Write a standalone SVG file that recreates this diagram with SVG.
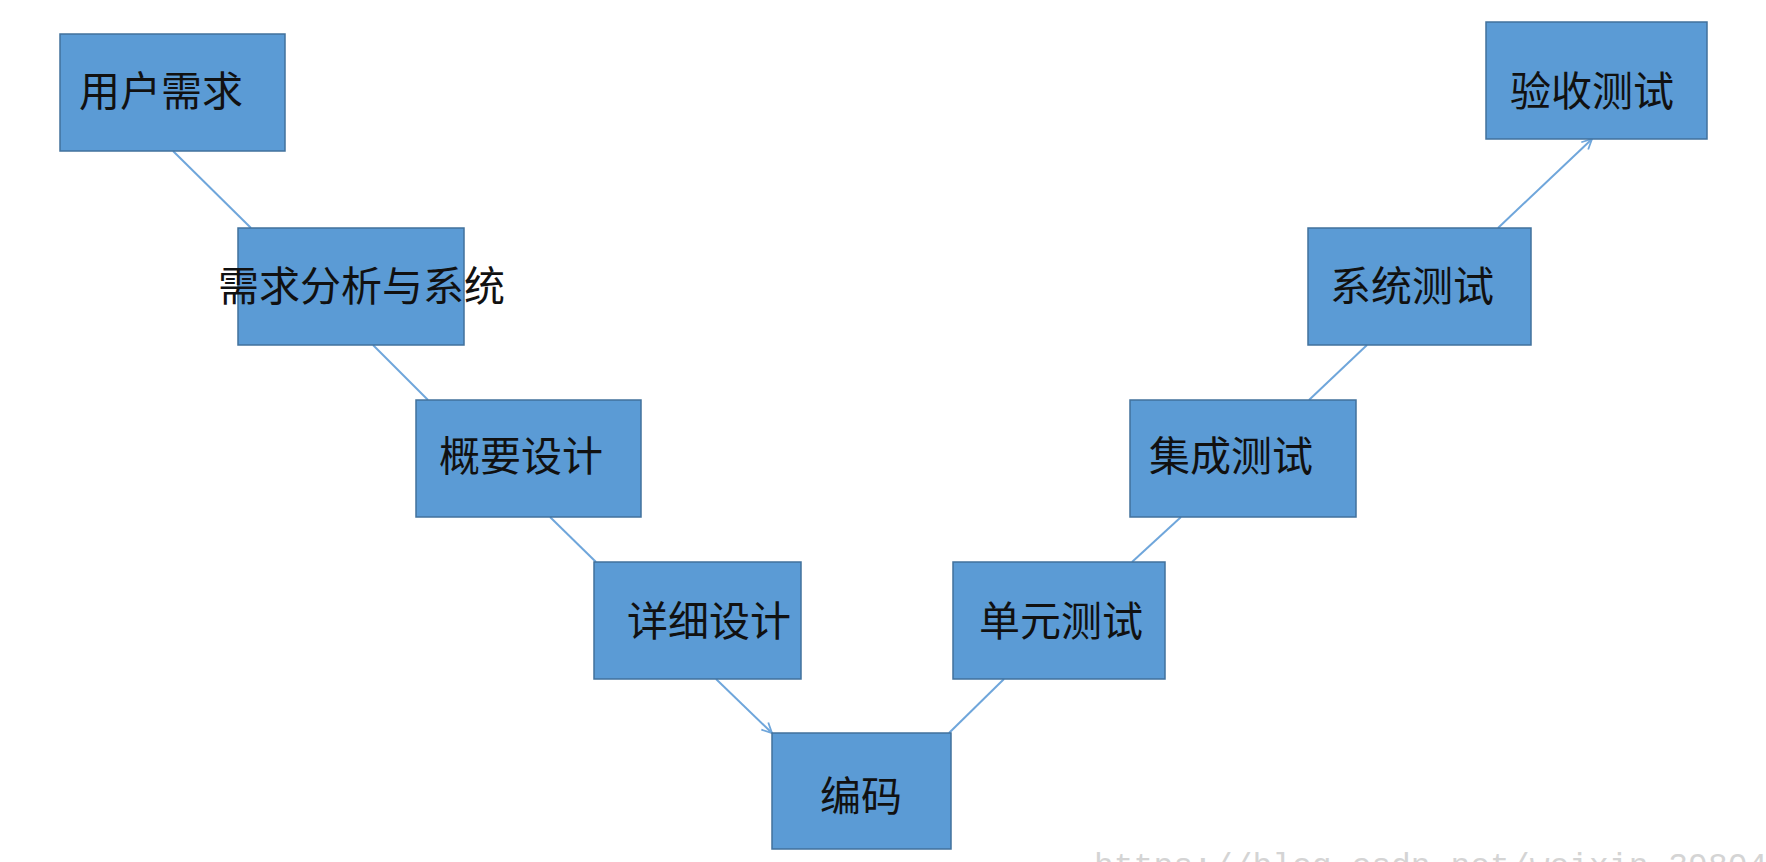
<svg xmlns="http://www.w3.org/2000/svg" width="1766" height="862" viewBox="0 0 1766 862">
<style>
.box{fill:#5B9BD5;stroke:#41719C;stroke-width:1.5}
.lbl{font-family:"Noto Sans CJK SC","Liberation Sans",sans-serif;font-size:41px;fill:#111}
.ln{stroke:#6FA6DB;stroke-width:2;fill:none}
.wm{font-family:"Liberation Mono",monospace;font-size:33px;fill:#d4d4d4}
</style>
<defs>
<marker id="arr" viewBox="0 0 12 12" refX="11" refY="6" markerWidth="12" markerHeight="12" markerUnits="userSpaceOnUse" orient="auto">
<path d="M1,1 L11,6 L1,11" fill="none" stroke="#6FA6DB" stroke-width="1.8"/>
</marker>
</defs>
<rect width="1766" height="862" fill="#fff"/>
<g id="connectors">
<line class="ln" x1="173" y1="151" x2="251" y2="228"/>
<line class="ln" x1="373" y1="345" x2="428" y2="400"/>
<line class="ln" x1="550" y1="517" x2="596" y2="562"/>
<line class="ln" x1="716" y1="679" x2="772" y2="733" marker-end="url(#arr)"/>
<line class="ln" x1="949" y1="733" x2="1004" y2="679"/>
<line class="ln" x1="1132" y1="562" x2="1181" y2="517"/>
<line class="ln" x1="1309" y1="400" x2="1367" y2="345"/>
<line class="ln" x1="1498" y1="228" x2="1592" y2="139" marker-end="url(#arr)"/>
</g>
<g id="n1"><rect class="box" x="60" y="34" width="225" height="117"/><text class="lbl" x="79" y="106">用户需求</text></g>
<g id="n2"><rect class="box" x="238" y="228" width="226" height="117"/><text class="lbl" x="218" y="301">需求分析与系统</text></g>
<g id="n3"><rect class="box" x="416" y="400" width="225" height="117"/><text class="lbl" x="439" y="471">概要设计</text></g>
<g id="n4"><rect class="box" x="594" y="562" width="207" height="117"/><text class="lbl" x="627" y="636">详细设计</text></g>
<g id="n5"><rect class="box" x="772" y="733" width="179" height="116"/><text class="lbl" x="820" y="811">编码</text></g>
<g id="n6"><rect class="box" x="953" y="562" width="212" height="117"/><text class="lbl" x="979" y="636">单元测试</text></g>
<g id="n7"><rect class="box" x="1130" y="400" width="226" height="117"/><text class="lbl" x="1149" y="471">集成测试</text></g>
<g id="n8"><rect class="box" x="1308" y="228" width="223" height="117"/><text class="lbl" x="1330" y="301">系统测试</text></g>
<g id="n9"><rect class="box" x="1486" y="22" width="221" height="117"/><text class="lbl" x="1510" y="106">验收测试</text></g>
<text class="wm" x="1094" y="876">https://blog.csdn.net/weixin_39804</text>
</svg>
